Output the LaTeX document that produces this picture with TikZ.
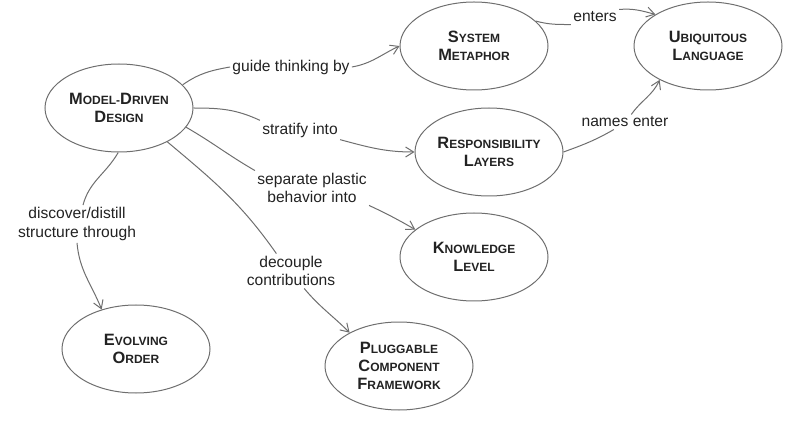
\documentclass[tikz,border=0pt]{standalone}
\usepackage{fontspec}
\setmainfont{Liberation Sans}
\usetikzlibrary{shapes.geometric,arrows.meta}
\definecolor{linegray}{HTML}{6E6E6E}
\definecolor{textgray}{HTML}{222222}
\newcommand{\capsc}[2]{{\fontsize{8.2}{9}\selectfont #1}{\fontsize{6}{9}\selectfont #2}}

\begin{document}
\begin{tikzpicture}[x=0.5pt, y=0.5pt,
    concept/.style={ellipse, draw=linegray, line width=0.5pt, minimum width=74pt, minimum height=44pt,
      inner sep=0pt, align=center, text=textgray, font=\bfseries\fontsize{8.2}{9}\selectfont},
    lbl/.style={inner sep=1pt, align=center, text=textgray, font=\fontsize{7.8}{9.3}\selectfont},
    link/.style={draw=linegray, line width=0.5pt},
    arr/.style={link, -{Straight Barb[length=4pt, width=5pt]}}]

    \useasboundingbox (0,0) rectangle (803,-422);

    \node[concept] (md) at (119,-108) {\capsc{M}{ODEL-}\capsc{D}{RIVEN}\\\capsc{D}{ESIGN}};
    \node[concept] (sm) at (474,-46) {\capsc{S}{YSTEM}\\\capsc{M}{ETAPHOR}};
    \node[concept] (ul) at (708,-46) {\capsc{U}{BIQUITOUS}\\\capsc{L}{ANGUAGE}};
    \node[concept] (rl) at (489,-152) {\capsc{R}{ESPONSIBILITY}\\\capsc{L}{AYERS}};
    \node[concept] (kl) at (474,-257) {\capsc{K}{NOWLEDGE}\\\capsc{L}{EVEL}};
    \node[concept] (eo) at (136,-349) {\capsc{E}{VOLVING}\\\capsc{O}{RDER}};
    \node[concept] (pc) at (399,-366) {\capsc{P}{LUGGABLE}\\\capsc{C}{OMPONENT}\\\capsc{F}{RAMEWORK}};

    \node[lbl] (gt) at (291,-67) {guide thinking by};
    \node[lbl] (st) at (300,-130) {stratify into};
    \node[lbl] (sp) at (312,-188) {separate plastic\\behavior into};
    \node[lbl] (dd) at (77,-224) {discover/distill\\structure through};
    \node[lbl] (dc) at (291,-271) {decouple\\contributions};
    \node[lbl] (en) at (595,-17) {enters};
    \node[lbl] (ne) at (625,-122) {names enter};

    \draw[link] (md.20) to[out=35, in=190] (gt.west);
    \draw[arr] (gt.east) to[out=10, in=205] (sm.west);
    \draw[link] (md.0) to[out=0, in=155] (st.north west);
    \draw[arr] (st.south east) to[out=-15, in=180] (rl.west);
    \draw[link] (md.-16) to[out=-30, in=150] (sp.north west);
    \draw[arr] (sp.south east) to[out=-25, in=150] (kl.155);
    \draw[link] (md.-35) to[out=-40, in=125] (dc.130);
    \draw[arr] (dc.-53) to[out=-50, in=135] (pc.146);
    \draw[link] (md.-91) to[out=-120, in=75] ([xshift=3pt]dd.north);
    \draw[arr] (dd.south) to[out=-85, in=112] (eo.131);
    \draw[link] (sm.22) to[out=-15, in=180] (en.south west);
    \draw[arr] (en.north east) to[out=5, in=165] (ul.149);
    \draw[link] (rl.0) to[out=20, in=210] (ne.-146);
    \draw[arr] (ne.50) to[out=55, in=245] (ul.215);

\end{tikzpicture}
\end{document}
